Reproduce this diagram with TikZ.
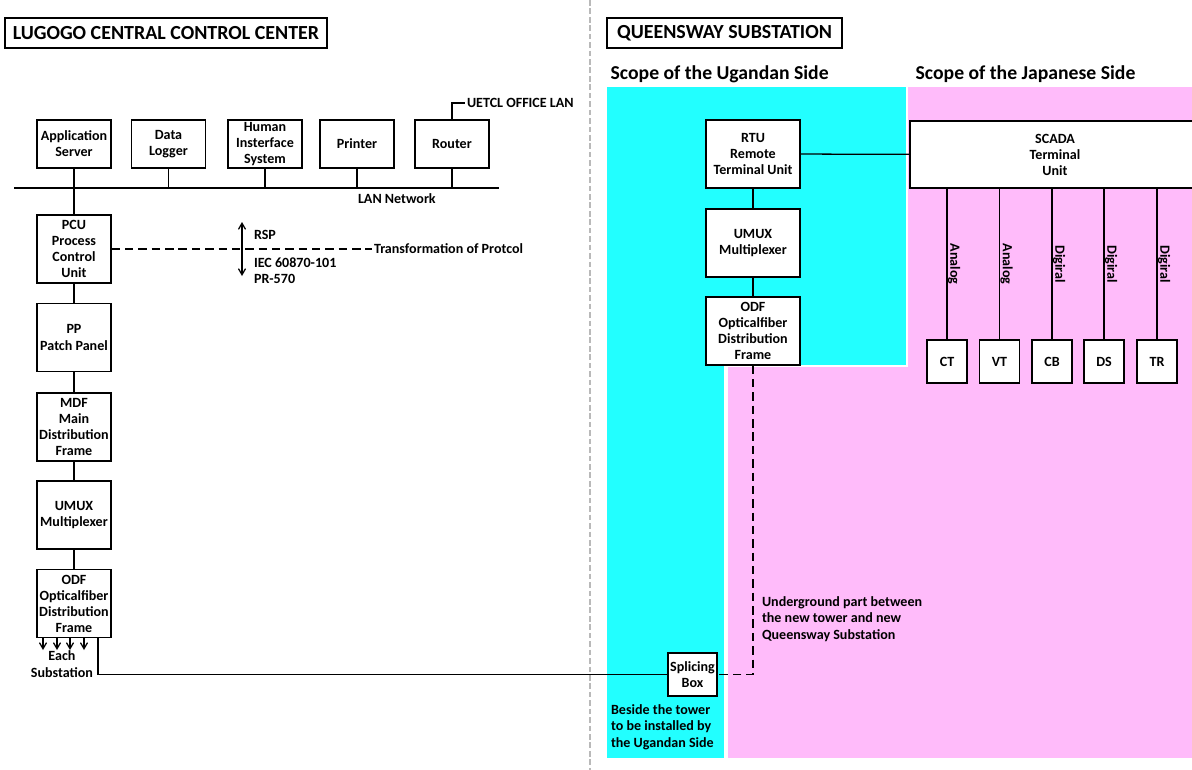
\documentclass[tikz,border=0pt]{standalone}
\usepackage{fontspec}
\setmainfont{Carlito}
\usetikzlibrary{arrows}
\usetikzlibrary{positioning}

\definecolor{ugcyan}{RGB}{34,255,255}
\definecolor{jppink}{RGB}{255,187,250}

\tikzset{
	box/.style={draw, line width=0.9pt, fill=white, align=center, inner sep=0pt, font=\fontsize{10}{11.4}\selectfont\bfseries},
	topbox/.style={box, minimum width=1.85cm, minimum height=1.2cm},
	colbox/.style={box, minimum width=1.85cm, minimum height=1.7cm},
	rbox/.style={box, minimum width=2.35cm, minimum height=1.7cm},
	sigbox/.style={box, minimum width=1cm, minimum height=1.075cm},
	title/.style={draw, line width=0.9pt, minimum height=0.75cm, font=\fontsize{14.2}{16}\selectfont\bfseries},
	scopetext/.style={font=\fontsize{14}{16}\selectfont\bfseries, inner sep=0pt},
	note/.style={align=left, inner sep=1pt, font=\fontsize{10}{11.6}\selectfont\bfseries},
	sig/.style={rotate=-90, anchor=south, inner sep=0.3pt, font=\fontsize{10}{11.6}\selectfont\bfseries},
	protline/.style={line width=0.9pt, dash pattern=on 6pt off 3.5pt},
	bus/.style={line width=1.8pt}
}

\begin{document}
\begin{tikzpicture}[x=0.025cm, y=-0.025cm, line width=0.9pt, >=angle 60]
	\useasboundingbox (0,0) rectangle (1192,770);

	\fill[jppink] (908,87) rectangle (1192,758);
	\fill[jppink] (728,367) rectangle (1192,758);
	\fill[ugcyan] (607,87) rectangle (906,365);
	\fill[ugcyan] (607,87) rectangle (724,758);

	\draw[gray!55, line width=1.2pt, dash pattern=on 4pt off 2pt] (590,0) -- (590,770);

	\draw (166,33) node[title, minimum width=8.05cm] (lugogo) {LUGOGO CENTRAL CONTROL CENTER};
	\draw (724.5,33) node[title, minimum width=5.875cm] (queensway) {QUEENSWAY SUBSTATION};
	\draw (610,74) node[scopetext, anchor=west] (ugscope) {Scope of the Ugandan Side};
	\draw (915,74) node[scopetext, anchor=west] (jpscope) {Scope of the Japanese Side};

	% control center LAN
	\draw (74,144) node[topbox] (app) {Application\\Server};
	\draw (168.5,144) node[topbox] (logger) {Data\\Logger};
	\draw (265,144) node[topbox] (his) {Human\\Insterface\\System};
	\draw (357,144) node[topbox] (printer) {Printer};
	\draw (452,144) node[topbox] (router) {Router};

	\coordinate (busl) at (14,188);
	\coordinate (busr) at (499,188);
	\draw[bus] (busl) -- (busr);
	\foreach \dev in {logger, his, printer, router}
		\draw (\dev) -- (\dev |- busl);
	\draw (356,199) node[note, anchor=west] (lan) {LAN Network};
	\draw (465,103) node[note, anchor=west] (officelan) {UETCL OFFICE LAN};
	\draw (router.north) |- (officelan.west);

	\draw (74,249) node[colbox] (pcu) {PCU\\Process\\Control\\Unit};
	\draw (74,337.5) node[colbox] (pp) {PP\\Patch Panel};
	\draw (74,427) node[colbox] (mdf) {MDF\\Main\\Distribution\\Frame};
	\draw (74,515) node[colbox] (umux) {UMUX\\Multiplexer};
	\draw (74,603.5) node[colbox] (odf) {ODF\\Opticalfiber\\Distribution\\Frame};
	\draw (app) -- (pcu) -- (pp) -- (mdf) -- (umux) -- (odf);

	\draw (372,249) node[note, anchor=west] (protocol) {Transformation of Protcol};
	\draw[protline] (pcu) -- (protocol);
	\coordinate (rspup) at (242,222);
	\coordinate (rspdn) at (242,276);
	\draw[<->] (rspup) -- (rspdn);
	\draw (252,235) node[note, anchor=west] (rsp) {RSP};
	\draw (252,271) node[note, anchor=west] (iec) {IEC 60870-101\\PR-570};

	\foreach \x in {43,57,70,84}
		\draw[->] (\x,638) -- (\x,650);
	\draw (62,664) node[note, align=center] (each) {Each\\Substation};

	% substation side
	\draw (753,154) node[rbox] (rtu) {RTU\\Remote\\Terminal Unit};
	\draw (753,243) node[rbox] (rmux) {UMUX\\Multiplexer};
	\draw (753,331) node[rbox] (rodf) {ODF\\Opticalfiber\\Distribution\\Frame};
	\draw (rtu) -- (rmux) -- (rodf);

	\draw (1055,154.5) node[box, minimum width=7.25cm, minimum height=1.675cm] (scada) {SCADA\\Terminal\\Unit};
	\draw (rtu) -- (scada);

	\foreach \x/\dev/\kind in {947/CT/Analog, 999.5/VT/Analog, 1052/CB/Digiral, 1104/DS/Digiral, 1157/TR/Digiral}{
		\draw (\x,361.5) node[sigbox] (\dev) {\dev};
		\draw (scada.south -| \dev) -- node[sig] {\kind} (\dev);
	}

	\draw (692.5,674.5) node[box, minimum width=1.225cm, minimum height=1.075cm] (splice) {Splicing\\Box};
	\coordinate (odfout) at (98,638);
	\draw (odfout) |- (splice);
	\draw[protline] (rodf) |- (splice);

	\draw (760,619) node[note, anchor=west] (underground) {Underground part between\\the new tower and new\\Queensway Substation};
	\draw (609,727) node[note, anchor=west] (beside) {Beside the tower\\to be installed by\\the Ugandan Side};

\end{tikzpicture}
\end{document}
